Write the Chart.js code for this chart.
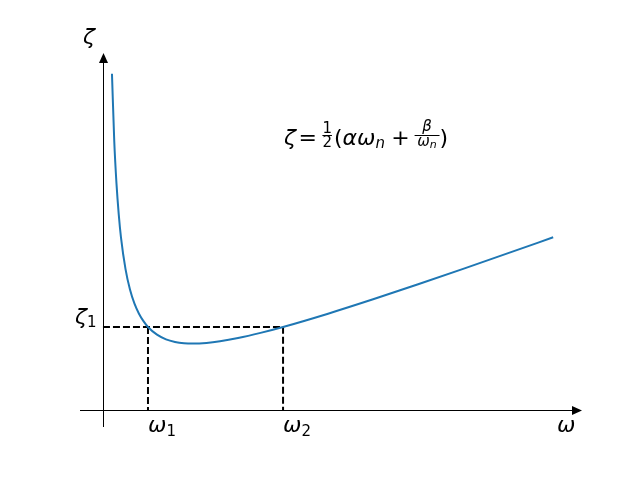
<!DOCTYPE html>
<html>
<head>
<meta charset="utf-8">
<script src="https://cdn.jsdelivr.net/npm/chart.js@4/dist/chart.umd.min.js"></script>
<style>
  body { margin: 0; background: #fff; }
  canvas { display: block; }
</style>
</head>
<body>
<canvas id="chart" width="640" height="480"></canvas>
<script>
// curve (omega in units of omega_1, zeta in units of zeta_1)
const omega = [0.2, 0.25, 0.3, 0.35, 0.4, 0.5, 0.6, 0.7, 0.8, 0.9, 1.0, 1.2, 1.4, 1.6, 1.8, 2.0, 2.3, 2.6, 3.0, 3.5, 4.0, 5, 6, 7, 8, 9, 10]
const zeta = [4.05, 3.25, 2.73, 2.36, 2.08, 1.70, 1.45, 1.28, 1.16, 1.07, 1.0, 0.907, 0.851, 0.82, 0.804, 0.80, 0.808, 0.828, 0.867, 0.929, 1.0, 1.16, 1.333, 1.514, 1.70, 1.889, 2.08]

// marked points
const omegaMarks = [1, 4]
const zeta1 = 1

// axis extents (where the arrows end)
const xRange = [-0.51, 10.64]
const yRange = [-0.205, 4.30]

var curve = omega.map(function (w, i) { return {x: w, y: zeta[i]} })
var dashA = [{x: 0, y: zeta1}, {x: omegaMarks[1], y: zeta1}, {x: omegaMarks[1], y: 0}]
var dashB = [{x: omegaMarks[0], y: zeta1}, {x: omegaMarks[0], y: 0}]

const MAIN = '22px "DejaVu Sans"'
const ITAL = 'oblique 22px "DejaVu Sans"'
const SUB = '15px "DejaVu Sans"'
const SUBI = 'oblique 15px "DejaVu Sans"'
const SUBSUBI = 'oblique 11px "DejaVu Sans"'

function seq(ctx, x, y, items) {
    for (let it of items) {
        ctx.font = it.f
        ctx.fillText(it.t, x, y + (it.dy || 0))
        x += ctx.measureText(it.t).width + (it.sp || 0)
    }
    return x
}

function widthOf(ctx, items) {
    var w = 0
    for (let it of items) {
        ctx.font = it.f
        w += ctx.measureText(it.t).width + (it.sp || 0)
    }
    return w
}

// fraction: numerator/denominator item lists, centred on a bar
function frac(ctx, x, y, num, den, numUp, denDown, pad) {
    var wn = widthOf(ctx, num)
    var wd = widthOf(ctx, den)
    var w = Math.max(wn, wd) + pad
    var bar = y - 10
    ctx.fillRect(x, bar, w, 1)
    seq(ctx, x + (w - wn) / 2, bar - numUp, num)
    seq(ctx, x + (w - wd) / 2, bar + denDown, den)
    return x + w
}

const axesPlugin = {
    id: 'arrowAxes',
    beforeDatasetsDraw(chart) {
        var ctx = chart.ctx
        var xs = chart.scales.x
        var ys = chart.scales.y
        var x0 = xs.getPixelForValue(0)
        var y0 = ys.getPixelForValue(0)
        var xEnd = xs.getPixelForValue(xRange[1])
        var yEnd = ys.getPixelForValue(yRange[1])
        ctx.save()
        ctx.strokeStyle = '#000'
        ctx.fillStyle = '#000'
        ctx.lineWidth = 1
        ctx.beginPath()
        ctx.moveTo(xs.getPixelForValue(xRange[0]), Math.round(y0) + 0.5)
        ctx.lineTo(xEnd - 9, Math.round(y0) + 0.5)
        ctx.moveTo(Math.round(x0) + 0.5, ys.getPixelForValue(yRange[0]))
        ctx.lineTo(Math.round(x0) + 0.5, yEnd + 9)
        ctx.stroke()
        // arrow heads
        ctx.beginPath()
        ctx.moveTo(xEnd, Math.round(y0) + 0.5)
        ctx.lineTo(xEnd - 10, Math.round(y0) + 0.5 - 4.5)
        ctx.lineTo(xEnd - 10, Math.round(y0) + 0.5 + 4.5)
        ctx.closePath()
        ctx.fill()
        ctx.beginPath()
        ctx.moveTo(Math.round(x0) + 0.5, yEnd)
        ctx.lineTo(Math.round(x0) + 0.5 - 4.5, yEnd + 10)
        ctx.lineTo(Math.round(x0) + 0.5 + 4.5, yEnd + 10)
        ctx.closePath()
        ctx.fill()
        ctx.restore()
    },
    afterDraw(chart) {
        var ctx = chart.ctx
        var xs = chart.scales.x
        var ys = chart.scales.y
        var x0 = xs.getPixelForValue(0)
        var y0 = ys.getPixelForValue(0)
        ctx.save()
        ctx.fillStyle = '#000'
        ctx.textBaseline = 'alphabetic'
        ctx.textAlign = 'left'
        // axis names
        seq(ctx, x0 - 20, ys.getPixelForValue(yRange[1]) - 9, [{t: 'ζ', f: ITAL}])
        seq(ctx, xs.getPixelForValue(xRange[1]) - 25, y0 + 22, [{t: 'ω', f: ITAL}])
        // marks on the axes
        omegaMarks.forEach(function (w, i) {
            seq(ctx, xs.getPixelForValue(w), y0 + 22, [{t: 'ω', f: ITAL}, {t: String(i + 1), f: SUB, dy: 4}])
        })
        seq(ctx, x0 - 28, ys.getPixelForValue(zeta1) - 3, [{t: 'ζ', f: ITAL}, {t: '1', f: SUB, dy: 3}])
        // formula
        var fx = 284, fy = 145
        fx = seq(ctx, fx, fy, [{t: 'ζ', f: ITAL, sp: 2.5}, {t: '=', f: MAIN, sp: 5.5}])
        fx = frac(ctx, fx, fy, [{t: '1', f: SUB}], [{t: '2', f: SUB}], 2.5, 12, 0)
        fx += 2
        fx = seq(ctx, fx, fy, [{t: '(', f: MAIN}, {t: 'α', f: ITAL}, {t: 'ω', f: ITAL}, {t: 'n', f: SUBI, dy: 3, sp: 6.4}, {t: '+', f: MAIN, sp: 4.8}])
        fx = frac(ctx, fx, fy, [{t: 'β', f: SUBI}], [{t: 'ω', f: SUBI}, {t: 'n', f: SUBSUBI, dy: 2}], 4, 10.5, 5.4)
        seq(ctx, fx, fy, [{t: ')', f: MAIN}])
        ctx.restore()
    }
}

new Chart(document.getElementById('chart'), {
    type: 'line',
    data: {
        datasets: [
            {data: curve, borderColor: '#1f77b4', borderWidth: 2, pointRadius: 0, cubicInterpolationMode: 'monotone', fill: false},
            {data: dashA, borderColor: '#000', borderWidth: 2, borderDash: [7, 3], pointRadius: 0, tension: 0, fill: false},
            {data: dashB, borderColor: '#000', borderWidth: 2, borderDash: [7, 3], pointRadius: 0, tension: 0, fill: false}
        ]
    },
    options: {
        responsive: false,
        animation: false,
        devicePixelRatio: 1,
        layout: {padding: {left: 80, right: 58, top: 53, bottom: 53}},
        plugins: {legend: {display: false}, tooltip: {enabled: false}},
        scales: {
            x: {type: 'linear', display: false, min: xRange[0], max: xRange[1]},
            y: {type: 'linear', display: false, min: yRange[0], max: yRange[1]}
        }
    },
    plugins: [axesPlugin]
})
</script>
</body>
</html>
